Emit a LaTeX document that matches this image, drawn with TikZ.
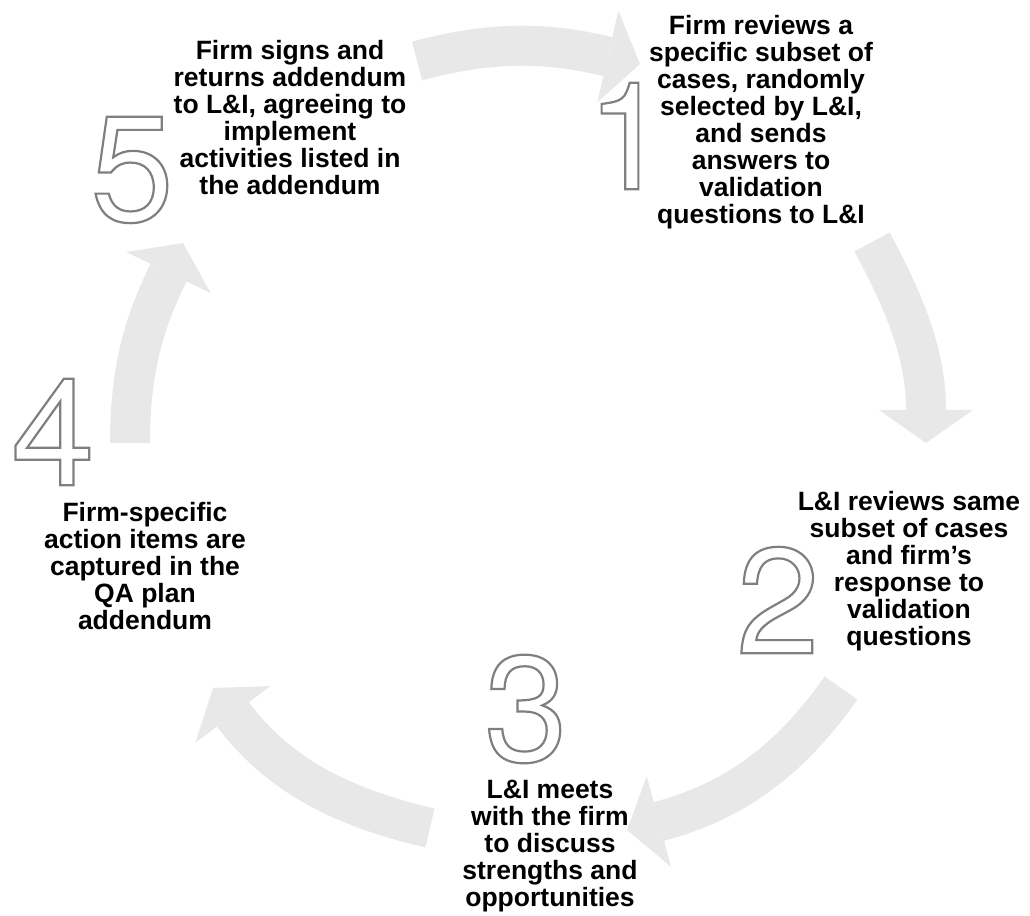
\documentclass[tikz,border=0pt]{standalone}
\usepackage{fontspec}
\setmainfont{Liberation Sans}
\newfontfamily\numfont{TeX Gyre Heros}
\usetikzlibrary{arrows.meta}
\definecolor{textcol}{HTML}{000000}
\definecolor{arrowcol}{HTML}{E8E8E8}
\definecolor{digitcol}{HTML}{7F7F7F}
% outlined glyphs (text render mode 1)
\newcommand\hollow[1]{\special{pdf:literal direct 1 Tr 2.2 w}#1\special{pdf:literal direct 0 Tr}}

\begin{document}
\begin{tikzpicture}[x=1pt,y=1pt,
	cyclearrow/.style={draw=arrowcol,line width=40pt,-{Triangle[width=94pt,length=33pt,line width=0pt]}},
	stepnum/.style={inner sep=0pt,text=digitcol,font=\numfont\fontsize{150}{150}\selectfont},
	steptext/.style={inner sep=0pt,anchor=north,align=center,text=textcol,font=\bfseries\fontsize{26.5}{27}\selectfont}]
\useasboundingbox (0,0) rectangle (1030,915);
\foreach \sx/\sy/\so/\ex/\ey/\ei [count=\i] in {
	417/854/15/640/851/167,
	872/673/-61.5/926/472/90,
	841/227/-125/627/85/15,
	430/87/167/213/227/-53,
	130/472/90/183/672/-116%
	}{
	\coordinate (from\i) at (\sx,\sy);
	\coordinate (to\i) at (\ex,\ey);
	\draw[cyclearrow] (from\i) to[out=\so,in=\ei] (to\i);
	}
\foreach \nx/\ny/\tx/\ty/\txt [count=\i] in {
	628/779/761/899.5/{Firm reviews a\\specific subset of\\cases, randomly\\selected by L\&I,\\and sends\\answers to\\validation\\questions to L\&I},
	778/315/909/424/{L\&I reviews same\\subset of cases\\and firm’s\\response to\\validation\\questions},
	526/206/550/135/{L\&I meets\\with the firm\\to discuss\\strengths and\\opportunities},
	53/483/145/413/{Firm-specific\\action items are\\captured in the\\QA plan\\addendum},
	132/745/290/874.5/{Firm signs and\\returns addendum\\to L\&I, agreeing to\\implement\\activities listed in\\the addendum}%
	}{
	\node[stepnum] (num\i) at (\nx,\ny) {\hollow{\i}};
	\node[steptext] (step\i) at (\tx,\ty) {\txt};
	}
\end{tikzpicture}
\end{document}
